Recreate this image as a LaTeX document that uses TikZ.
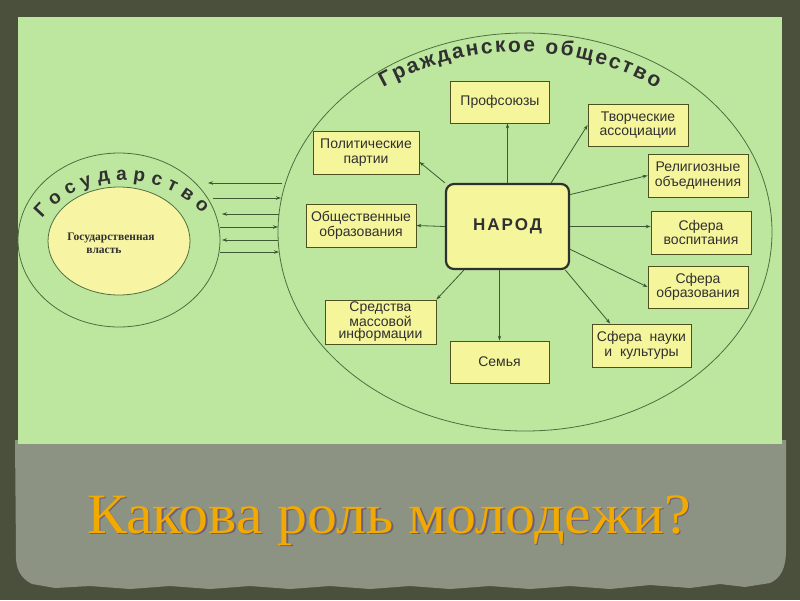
\documentclass[tikz,border=0pt]{standalone}
\usepackage{fontspec}
\setmainfont{Liberation Serif}
\setsansfont{Liberation Sans}
\newfontfamily\spacedsans[LetterSpace=12]{Liberation Sans}
\usetikzlibrary{arrows.meta,decorations.text,calc}

\definecolor{bgdark}{HTML}{4B503C}
\definecolor{paper}{HTML}{8D9383}
\definecolor{panel}{HTML}{BDE79F}
\definecolor{boxfill}{HTML}{F5F59C}
\definecolor{statefill}{HTML}{F7F4A4}
\definecolor{boxline}{HTML}{4E5020}
\definecolor{linec}{HTML}{3E5A32}
\definecolor{ringline}{HTML}{4F6E40}
\definecolor{txt}{HTML}{303030}
\definecolor{gold}{HTML}{F2AA00}
\definecolor{shadowc}{HTML}{6E5E78}

\begin{document}
\begin{tikzpicture}[x=1pt,y=-1pt,
  box/.style={draw=boxline, line width=0.8pt, fill=boxfill, text=txt, align=center,
    inner sep=0pt, font=\sffamily\fontsize{14}{14.5}\selectfont},
  conn/.style={draw=linec, line width=0.8pt, -{Stealth[length=5pt,width=3.5pt]}},
  ring/.style={draw=ringline, line width=0.8pt},
  statetext/.style={font=\rmfamily\bfseries\fontsize{11.5}{12}\selectfont, text=txt, inner sep=0pt},
  titlefont/.style={font=\rmfamily\fontsize{57}{57}\selectfont, inner sep=0pt, anchor=base}]

\useasboundingbox (0,0) rectangle (800,600);
\fill[bgdark] (0,0) rectangle (800,600);
% torn paper
\fill[paper] (15,440) -- (786,440) -- (786,550) .. controls (786,568) and (781,578) .. (770,583)
  -- (745,587) -- (720,584) -- (690,588) -- (650,585) -- (610,589) -- (570,586) -- (530,589)
  -- (490,586) -- (450,589) -- (410,586) -- (370,589) -- (330,586) -- (290,589) -- (250,586)
  -- (210,589) -- (170,586) -- (130,589) -- (90,586) -- (55,588) -- (32,584)
  .. controls (20,578) and (15,568) .. (16,552) -- cycle;
% green panel
\fill[panel] (18,17) rectangle (782,444);

% ellipses
\draw[ring] (525,232) ellipse [x radius=247pt, y radius=199pt];
\draw[ring] (119,240) ellipse [x radius=101pt, y radius=87pt];
\draw[ring, fill=statefill] (119,241) ellipse [x radius=71pt, y radius=54pt];

% curved titles
\path[decorate, decoration={text along path, text align=fit to path, text color=txt,
  text={|\sffamily\bfseries\fontsize{19}{19}\selectfont|Государство}}]
  plot[domain=-140:-43, samples=80] ({124+107*cos(\x)},{287+107*sin(\x)});
\path[decorate, decoration={text along path, text align=fit to path, text color=txt,
  text={|\sffamily\bfseries\fontsize{21}{21}\selectfont|Гражданское общество}}]
  plot[domain=-119:-60.5, samples=120] ({519+280*cos(\x)},{332+280*sin(\x)});

% state text
\node[statetext] (gv1) at (111,238) {Государственная};
\node[statetext] (gv2) at (104,251) {власть};

% boxes
\node[box, minimum width=99pt, minimum height=42pt] (prof) at (500,102) {Профсоюзы};
\node[box, minimum width=106pt, minimum height=43pt] (pol) at (366,152.5) {Политические\\партии};
\node[box, minimum width=100pt, minimum height=42pt] (tvor) at (638,125) {Творческие\\ассоциации};
\node[box, minimum width=100pt, minimum height=43pt] (rel) at (698,175.5) {Религиозные\\объединения};
\node[box, minimum width=100pt, minimum height=43pt] (vosp) at (701,232.5) {Сфера\\воспитания};
\node[box, minimum width=100pt, minimum height=42pt] (obr) at (698,287) {Сфера\\образования};
\node[box, minimum width=99pt, minimum height=43pt] (nauk) at (641.5,345.5) {Сфера\ \ науки\\и\ \ культуры};
\node[box, minimum width=110pt, minimum height=43pt] (obsh) at (361,225.5) {Общественные\\образования};
\node[box, minimum width=111pt, minimum height=44pt, font=\sffamily\fontsize{14}{12.8}\selectfont] (smi) at (380.5,322) {Средства\\массовой\\информации};
\node[box, minimum width=99pt, minimum height=42pt] (sem) at (499.5,362) {Семья};
\node[box, draw=txt, line width=2.2pt, rounded corners=8pt, minimum width=123pt, minimum height=85pt,
  font=\spacedsans\bfseries\fontsize{17}{17}\selectfont] (narod) at (507.5,226.5) {НАРОД};

% connectors from NAROD
\draw[conn] (narod.north) -- (narod.north |- prof.south);
\draw[conn] (narod.north west) -- (pol.-10);
\draw[conn] (narod.west) -- (obsh.east);
\draw[conn] (narod.-135) -- (smi.north east);
\draw[conn] (narod.south -| sem.north) -- (sem.north);
\draw[conn] (narod.45) -- (tvor.west);
\draw[conn] (narod.27) -- (rel.west);
\draw[conn] (narod.east) -- (narod.east -| vosp.west);
\draw[conn] (narod.-20) -- (obr.west);
\draw[conn] (narod.-37) -- (nauk.145);

% state <-> society
\coordinate (l1) at (208,183); \coordinate (r1) at (282,183);
\coordinate (l2) at (213,198); \coordinate (r2) at (281,198);
\coordinate (l3) at (222,214); \coordinate (r3) at (279,214);
\coordinate (l4) at (220,227); \coordinate (r4) at (278,227);
\coordinate (l5) at (222,240); \coordinate (r5) at (278,240);
\coordinate (l6) at (220,252); \coordinate (r6) at (279,252);
\draw[conn] (r1) -- (l1);
\draw[conn] (l2) -- (r2);
\draw[conn] (r3) -- (l3);
\draw[conn] (l4) -- (r4);
\draw[conn] (r5) -- (l5);
\draw[conn] (l6) -- (r6);

% title
\node[titlefont, text=shadowc] (titleshadow) at (390.5,534.5) {\scalebox{1.05}[1]{Какова роль молодежи?}};
\node[titlefont, text=gold] (title) at (389,533) {\scalebox{1.05}[1]{Какова роль молодежи?}};
\end{tikzpicture}
\end{document}
